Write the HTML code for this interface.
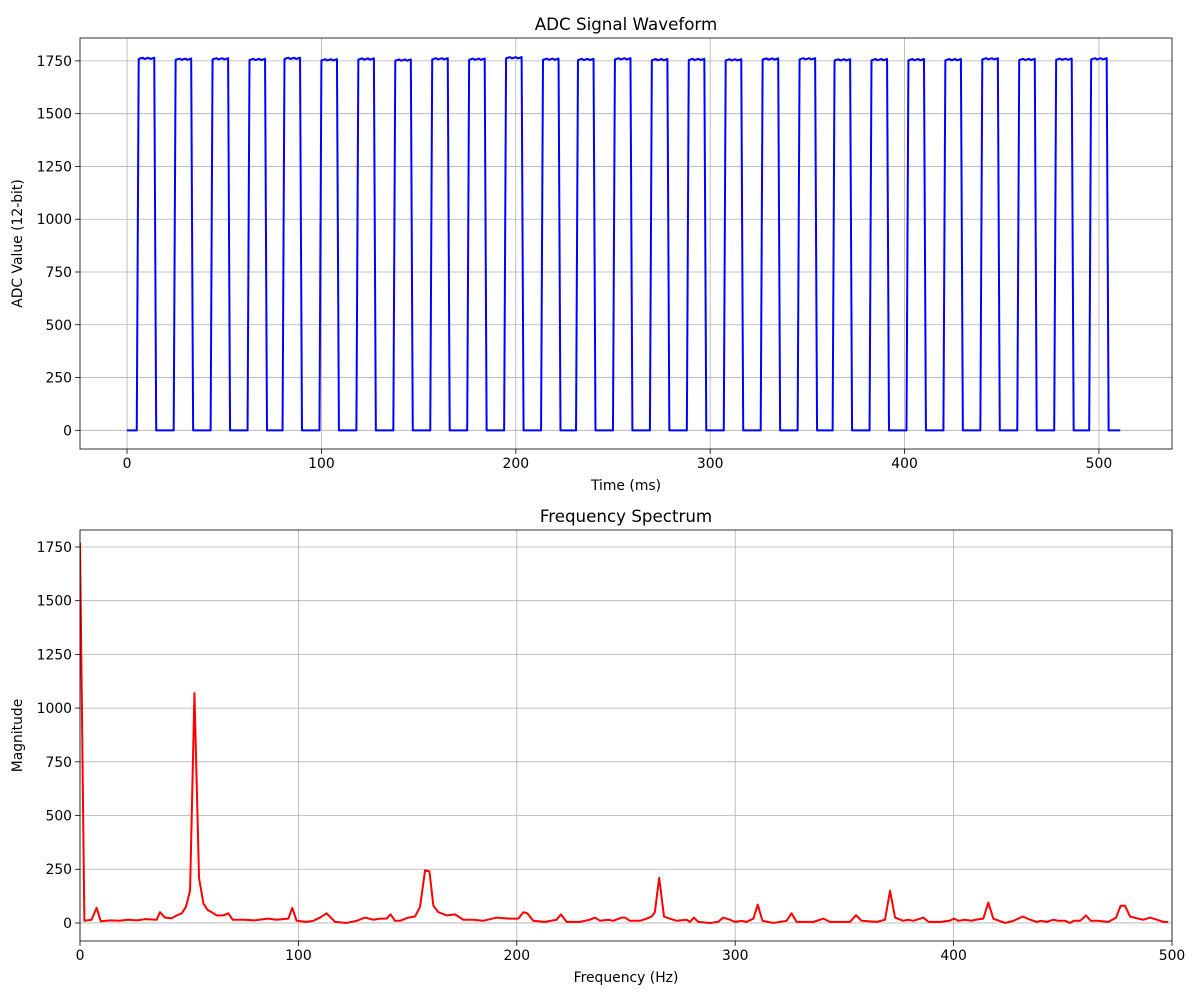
<!DOCTYPE html>
<html><head><meta charset="utf-8"><style>
html,body{margin:0;padding:0;background:#fff;}
svg{display:block;font-family:"DejaVu Sans","Liberation Sans",sans-serif;}
</style></head><body>
<svg id="fig" width="1200" height="1000" viewBox="0 0 1200 1000" xmlns="http://www.w3.org/2000/svg">
<rect width="1200" height="1000" fill="#fff"/>
</svg>
<script>
// ---- Waveform data (ms of first high sample per pulse, high level per pulse)
const riseMs = [6,25,44,63,81,100,119,138,157,176,195,214,232,251,270,289,308,327,346,364,383,402,421,440,459,478,496];
const highLevel = [1762,1758,1760,1757,1762,1755,1759,1754,1760,1758,1765,1758,1757,1760,1756,1757,1755,1759,1760,1755,1756,1756,1756,1760,1757,1758,1760];
const highSamples = 9;
const sampleCount = 512;
const timeTicks = [0,100,200,300,400,500];
const adcTicks = [0,250,500,750,1000,1250,1500,1750];
// ---- Spectrum data (Hz, magnitude)
const freqHz = [0,2,5.3,7.6,9.5,14,18,22,26,30,35.1,36.6,38.9,42,44.3,46.6,48.5,50.4,52.4,54.5,56.5,58.5,60.3,62.6,65.6,67.9,69.9,75,80,86,90,95.4,97.2,99.2,103.8,106.8,109.9,112.9,116.8,122.1,126.7,130.5,134.3,137.4,140.4,142.2,144.2,146.5,150.3,153.4,155.7,158,160,161.8,164.1,167.9,171.7,175.5,180,184.6,190.7,196.8,200.7,203,204.8,207.5,212.9,218.2,220.2,222.8,228.9,233.5,235.8,238.1,241.9,244.2,248,249.5,251.8,256.4,259.4,261.7,263.2,265.2,267.4,270.1,273.2,277.7,279.3,281.1,283.1,288.4,292.2,294.5,297.6,299.9,302.9,305.2,308.3,310.3,312.5,317.4,323.5,325.8,328.1,334.2,335.8,340.4,343.4,352.6,355.3,357.9,364.8,368.6,370.9,373.2,377,379,381.6,386.2,388.5,394,398,400.2,402.2,405,408.3,410,413.6,415.9,418.2,423.6,427.4,431.7,435,438.1,440,442.6,445.7,448,451,453.3,455,458,460.6,462.8,466,470.9,474.4,476.5,478.5,480.8,484.6,487,490,493,496.1,498.3];
const magnitude = [1770,10,15,70,8,12,10,15,12,18,15,50,25,22,35,45,75,150,1070,210,90,60,50,35,35,45,15,15,12,20,15,20,70,10,5,10,25,45,5,0,10,25,15,20,20,40,10,10,25,30,75,245,240,80,50,35,40,15,15,10,25,20,20,50,45,10,5,15,40,5,5,15,25,10,15,10,25,25,10,10,20,30,50,210,30,20,10,15,5,25,5,0,5,25,15,5,10,5,20,85,10,0,10,45,5,5,5,20,5,5,36,10,5,15,150,25,10,15,10,25,5,5,10,20,10,15,10,15,20,95,20,0,10,30,15,5,10,5,15,10,10,0,10,10,35,10,10,5,25,80,80,30,20,15,25,15,5,5];
const freqTicks = [0,100,200,300,400,500];
const magTicks = [0,250,500,750,1000,1250,1500,1750];

const NS = "http://www.w3.org/2000/svg";
const fig = document.getElementById('fig');
function el(tag, attrs, parent){ const e=document.createElementNS(NS,tag); for(const k in attrs) e.setAttribute(k,attrs[k]); (parent||fig).appendChild(e); return e; }

function drawAxes(cfg){
  const {L,R,T,B,xmin,xmax,ymin,ymax,xticks,yticks,title,xlabel,ylabel,prefix} = cfg;
  const sx = v => L + (v-xmin)/(xmax-xmin)*(R-L);
  const sy = v => B - (v-ymin)/(ymax-ymin)*(B-T);
  const g = el('g',{});
  
  
  xticks.forEach(t=>{
    const x=sx(t);
    const gl=el('line',{x1:x,x2:x,y1:T,y2:B,stroke:'#b0b0b0','stroke-width':0.8},g);
    
    
    el('line',{x1:x,x2:x,y1:B,y2:B+4.9,stroke:'#000','stroke-width':0.8},g);
    const tx=el('text',{x:x,y:B+19,'font-size':13.9,'text-anchor':'middle',fill:'#000'},g);
    tx.textContent=t;
    
    
  });
  yticks.forEach(t=>{
    const y=sy(t);
    const gl=el('line',{x1:L,x2:R,y1:y,y2:y,stroke:'#b0b0b0','stroke-width':0.8},g);
    
    
    el('line',{x1:L-4.9,x2:L,y1:y,y2:y,stroke:'#000','stroke-width':0.8},g);
    const ty=el('text',{x:L-8,y:y+5,'font-size':13.9,'text-anchor':'end',fill:'#000'},g);
    ty.textContent=t;
    
    
  });
  const tt=el('text',{x:(L+R)/2,y:T-8,'font-size':16.7,'text-anchor':'middle',fill:'#000'});
  tt.textContent=title;
  
  
  const xl=el('text',{x:(L+R)/2,y:B+41,'font-size':13.9,'text-anchor':'middle',fill:'#000'});
  xl.textContent=xlabel;
  
  
  const yl=el('text',{x:0,y:0,'font-size':13.9,'text-anchor':'middle',fill:'#000',transform:`translate(22,${(T+B)/2}) rotate(-90)`});
  yl.textContent=ylabel;
  
  
  return {sx,sy,finish:()=>{
    const fr=el('rect',{x:L,y:T,width:R-L,height:B-T,fill:'none',stroke:'#000','stroke-width':0.8});
    
    
  }};
}

// Top chart
const A = drawAxes({L:80,R:1172,T:38,B:449,xmin:-24.2,xmax:537.6,ymin:-88.5,ymax:1858.5,xticks:timeTicks,yticks:adcTicks,title:'ADC Signal Waveform',xlabel:'Time (ms)',ylabel:'ADC Value (12-bit)',prefix:'waveform'});
const wave = new Array(sampleCount).fill(0);
riseMs.forEach((r,i)=>{ for(let k=0;k<highSamples;k++){ if(r+k<sampleCount) wave[r+k]=highLevel[i]+((k%3)-1)*3; } });
let d='';
wave.forEach((v,i)=>{ d += (i?'L':'M')+A.sx(i).toFixed(2)+','+A.sy(v).toFixed(2); });
const wp = el('path',{d:d,fill:'none',stroke:'#0000ff','stroke-width':2,'stroke-linejoin':'round'});


A.finish();

// Bottom chart
const S = drawAxes({L:80,R:1172,T:530,B:941,xmin:0,xmax:500,ymin:-84,ymax:1829,xticks:freqTicks,yticks:magTicks,title:'Frequency Spectrum',xlabel:'Frequency (Hz)',ylabel:'Magnitude',prefix:'spectrum'});
const defs = el('defs',{});
const cp = el('clipPath',{id:'clipS'},defs);
el('rect',{x:80,y:530,width:1092,height:411},cp);
let d2='';
freqHz.forEach((f,i)=>{ d2 += (i?'L':'M')+S.sx(f).toFixed(2)+','+S.sy(magnitude[i]).toFixed(2); });
const sp = el('path',{d:d2,fill:'none',stroke:'#ff0000','stroke-width':2,'stroke-linejoin':'round','clip-path':'url(#clipS)'});


S.finish();
</script>
</body></html>
